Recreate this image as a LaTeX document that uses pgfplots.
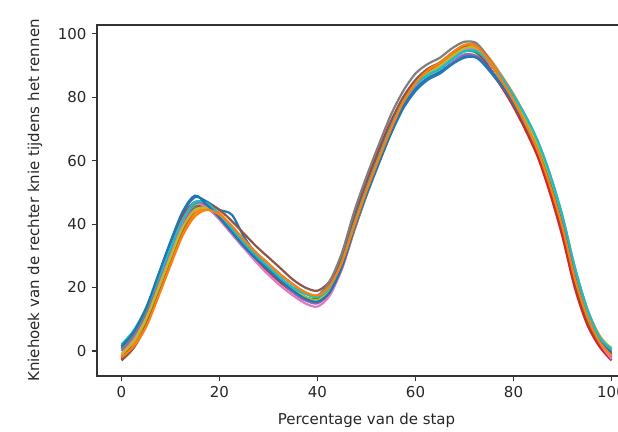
\documentclass[border=0pt]{standalone}
\usepackage{fontspec}
\setmainfont{DejaVu Sans}
\usepackage{pgfplots}
\usepackage{pgfplotstable}
\pgfplotsset{compat=1.18}

% tab10
\definecolor{tb}{HTML}{1F77B4}
\definecolor{to}{HTML}{FF7F0E}
\definecolor{tg}{HTML}{2CA02C}
\definecolor{tr}{HTML}{D62728}
\definecolor{tp}{HTML}{9467BD}
\definecolor{tbr}{HTML}{8C564B}
\definecolor{tpk}{HTML}{E377C2}
\definecolor{tgr}{HTML}{7F7F7F}
\definecolor{tol}{HTML}{BCBD22}
\definecolor{tc}{HTML}{17BECF}

% knee angle per stride, one column per run
\pgfplotstableread{
x    c1   c2   c3   c4   c5   c6   c7   c8   c9   c10  c11  c12
0    1    -1.5 -2   -2.5 0    -3   -1   0.5  -1   2    1.5  -2
2.5  5.5  2    3    3.5  4.5  1    3.5  5    3    6.5  6    1.5
5    13   8.5  10   12   11   8    10.5 12   10   13.5 13.5 7.5
7.5  23   18   20.5 23.5 20.5 18.5 20.5 22   19.5 23   24   17
10   33.5 28   30.5 34   30.5 29   31   32   29.5 32.5 34.5 27
12.5 43.5 37.5 40   42.5 40   38.5 41   41.5 39   41.5 44   36.5
15   48.5 43.5 45.5 47   45   44.5 46.5 46.5 44.5 47   49   42.5
17.5 47   45   45.5 45.5 45.5 46.5 45   46.5 45   46.5 46   44.5
20   44.5 43.5 42   41.5 42.5 44.5 41.5 43   42.5 43   42   43
22.5 43   39   37.5 37   38   41   37   39   38   38.5 37.5 39.5
25   36   34.5 33   32.5 33.5 37   32.5 35   33.5 34   33   35
27.5 30.5 30   29   28.5 29.5 33   28   31   29.5 30   29   31
30   26   26   25.5 25   25.5 29.5 24   27.5 26   26.5 25.5 27.5
32.5 22.5 22   22.5 21.5 22   26   20.5 24   22.5 23   22   24
35   19.5 19   19.5 18.5 18.5 22.5 17.5 21   19.5 20   19   21
37.5 17   16.5 17   16   16   20   15   18.5 17   18   16.5 18.5
40   16   15.5 16.5 16   15   19   14   17.5 16   17   15.5 17.5
42.5 19   18.5 20.5 21   18.5 22   17.5 22   19.5 20   18.5 20.5
45   26.5 26   29   30.5 27   29.5 26   31   28   28   26.5 28
47.5 38   38   41   43   39   41.5 38.5 44   40   40   38.5 39.5
50   49   49.5 52   54   50   52.5 50   55   51   51   49.5 50.5
52.5 59   60   62   63.5 60   62.5 60.5 65   61   61   59.5 60.5
55   68.5 70   71.5 72.5 69.5 72   70.5 74.5 70.5 70.5 69   70
57.5 76.5 78.5 79   80   77.5 80   78.5 82   78.5 78.5 77   78.5
60   82   84.5 84   85   83   85.5 84   87.5 84   84   82.5 84.5
62.5 85.5 88   87   88   86   89   87.5 90.5 87.5 87   86   88.5
65   87.5 90.5 89   90   88   91   89.5 92.5 90   89   88   91
67.5 90.5 94   92   93   91   94   92.5 95.5 93   92   90.5 94
70   93   96.5 94.5 95.5 93.5 96   95   97.5 95.5 94.5 92.5 96.5
72.5 92.5 96.5 94   94.5 93   95.5 95   97   95.5 94.5 92.5 96
75   88.5 92.5 89.5 89.5 89   91   91   92   91.5 91   89   91.5
77.5 83.5 87   84   83.5 84   85.5 86   86   86   86.5 84   85.5
80   77.5 81   77.5 77   78   79   80   79.5 79.5 80.5 78   79
82.5 70.5 74   70.5 69.5 71.5 72   73   72   72.5 74   71   71.5
85   62.5 66   62   61   63.5 64   65   63.5 64.5 66   63   63
87.5 51.5 55.5 51   49.5 53   53   54.5 52.5 54   55.5 52.5 52
90   38.5 42.5 38   36   40   40   41   39.5 41   42.5 39.5 39
92.5 22.5 26.5 22   20   24   24   25   23.5 25   26.5 23.5 23
95   10.5 13.5 10   8.5  11.5 12   12   11.5 12.5 13.5 11   11
97.5 3    5    2.5  1.5  3    4    3    3.5  4.5  4.5  3    3
100  -1   0.5  -1.5 -3   -2   -1   -2.5 0    1    0.5  -0.5 -1.5
}\knee

\begin{document}
\fontsize{15}{18}\selectfont
\begin{tikzpicture}
\begin{axis}[
  at={(0,0)}, anchor=south west,
  scale only axis, width=539pt, height=351pt,
  xmin=-5, xmax=105, ymin=-7.9, ymax=102.8,
  xtick={0,20,...,100}, ytick={0,20,...,100},
  tick align=outside, tick pos=left,
  major tick length=5.3pt,
  axis line style={line width=1.2pt, black!80},
  every tick/.style={line width=1.2pt, black!80},
  /pgf/number format/assume math mode=true,
  ticklabel style={font=\fontsize{15}{18}\selectfont, text=black!85},
  xlabel={Percentage van de stap},
  ylabel={Kniehoek van de rechter knie tijdens het rennen},
  xlabel style={at={(axis description cs:0.5,-0.125)}, anchor=center, text=black!85},
  ylabel style={at={(axis description cs:-0.115,0.5)}, anchor=center, rotate=0, text=black!85},
  cycle list={{tb},{to},{tg},{tr},{tp},{tbr},{tpk},{tgr},{tol},{tc}},
  every axis plot/.append style={line width=2.2pt, smooth, no markers},
]
\pgfplotsinvokeforeach{1,...,12}{
  \addplot table[x=x, y=c#1]{\knee};
}
\end{axis}
\pgfresetboundingbox
\path[use as bounding box] (-97pt,-55pt) rectangle (521pt,376pt);
\end{tikzpicture}
\end{document}
